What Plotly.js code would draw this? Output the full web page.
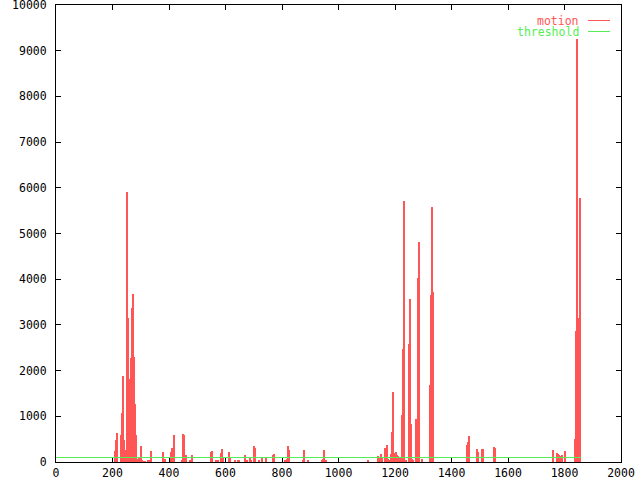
<!DOCTYPE html>
<html>
<head>
<meta charset="utf-8">
<script src="https://cdn.plot.ly/plotly-3.0.1.min.js"></script>
<style>
  html, body { margin: 0; padding: 0; background: #fff; }
  #chart { width: 640px; height: 480px; }
  #chart .scatterlayer path, #chart .shapelayer path, #chart .xlines-above, #chart .ylines-above,
  #chart .xtick, #chart .ytick, #chart path.xtick, #chart path.ytick { shape-rendering: crispEdges; }
</style>
</head>
<body>
<div id="chart"></div>
<script>
// Frame numbers at which motion was detected, and the motion score there
const frames = [
  208, 211, 215, 229, 233, 236, 240, 243, 247, 250, 254, 257, 261, 264, 268, 272, 275, 279, 282, 286,
  289, 293, 296, 300, 303, 307, 314, 325, 328, 335,
  378, 381, 385, 406, 410, 417, 445, 449, 452, 456, 459, 473, 480,
  548, 551, 565, 572, 583, 587, 590, 611, 615, 633, 643, 647, 668, 672, 675, 686, 689,
  700, 703, 718, 728, 742, 767, 771, 810, 817, 820, 824, 873, 877, 891, 941, 944, 948, 955,
  1103, 1139, 1142, 1146, 1149, 1153, 1164, 1167, 1171, 1174, 1178, 1185, 1188, 1192, 1195,
  1199, 1203, 1206, 1210, 1213, 1217, 1220, 1224, 1227, 1231, 1234, 1238, 1249, 1252, 1256,
  1259, 1263, 1273, 1277, 1280, 1284, 1295, 1323, 1326, 1330, 1334,
  1454, 1457, 1461, 1489, 1493, 1507, 1511, 1550, 1553,
  1758, 1772, 1776, 1780, 1787, 1790, 1801, 1836, 1840, 1843, 1847, 1850, 1854
];
const motion = [
  220, 466, 634, 575, 1055, 1865, 460, 180, 250, 5900, 3136, 1800, 1250, 2260, 3350, 3675, 2280, 1250, 575, 60,
  50, 100, 100, 340, 40, 20, 20, 40, 40, 232,
  210, 60, 60, 210, 290, 583, 40, 605, 583, 60, 138, 40, 138,
  210, 225, 40, 40, 182, 270, 100, 210, 80, 30, 30, 30, 138, 30, 30, 90, 40,
  335, 290, 40, 80, 90, 138, 160, 40, 60, 335, 260, 40, 247, 30, 30, 50, 247, 30,
  40, 110, 100, 80, 160, 80, 290, 150, 363, 50, 40, 160, 656, 1523, 130,
  180, 210, 150, 110, 100, 100, 100, 1020, 2457, 5696, 40, 40, 2566, 3550, 816,
  60, 40, 926, 794, 4010, 4806, 60, 1670, 3640, 5565, 3700,
  363, 422, 553, 270, 203, 270, 270, 313, 290,
  247, 197, 160, 140, 120, 140, 219, 488, 2850, 9240, 225, 3130, 5760
];
const firstFrame = 0;
const lastFrame = 1857;
const threshold = 100;

const xTicks = [0, 200, 400, 600, 800, 1000, 1200, 1400, 1600, 1800, 2000];
const yTicks = [0, 1000, 2000, 3000, 4000, 5000, 6000, 7000, 8000, 9000, 10000];

// Build a stepped series: every detected frame gets a narrow column, zero elsewhere
const colW = 3.5;
const sx = [firstFrame], sy = [0];
for (let i = 0; i < frames.length; i++) {
  sx.push(frames[i]); sy.push(motion[i]);
  const next = i + 1 < frames.length ? frames[i + 1] : Infinity;
  if (next - frames[i] > colW + 1) { sx.push(frames[i] + colW); sy.push(0); }
}
sx.push(lastFrame); sy.push(0);

const RED = '#ff5555', GREEN = '#55ee55';
const FONT = 'DejaVu Sans Mono, monospace';

const traces = [
  {
    x: sx, y: sy, type: 'scatter', mode: 'lines', name: 'motion',
    line: { color: RED, width: 1, shape: 'hv' },
    fill: 'tozeroy', fillcolor: RED, showlegend: false, hoverinfo: 'skip'
  },
  {
    x: [firstFrame, lastFrame], y: [threshold, threshold], type: 'scatter', mode: 'lines',
    name: 'threshold', line: { color: GREEN, width: 1 }, showlegend: false, hoverinfo: 'skip'
  }
];

const axisCommon = {
  showgrid: false, zeroline: false, showline: true, linecolor: '#000', linewidth: 1,
  mirror: 'allticks', ticks: 'inside', ticklen: 5, tickcolor: '#000', tickwidth: 1,
  tickfont: { family: FONT, size: 11.5, color: '#000' }, layer: 'below traces',
  ticklabeloverflow: 'allow'
};

const layout = {
  width: 640, height: 480,
  margin: { l: 56, r: 19, t: 5, b: 18, pad: 0 },
  paper_bgcolor: '#fff', plot_bgcolor: '#fff',
  showlegend: false,
  xaxis: Object.assign({}, axisCommon, {
    range: [0, 2000], tickvals: xTicks, ticktext: xTicks.map(String), ticklabelstandoff: 0
  }),
  yaxis: Object.assign({}, axisCommon, {
    range: [0, 10000], tickvals: yTicks, ticktext: yTicks.map(String), ticklabelstandoff: 6
  }),
  annotations: [
    { text: 'motion', xref: 'paper', yref: 'paper', x: 0.929, y: 0.965, xanchor: 'right', yanchor: 'middle',
      showarrow: false, font: { family: FONT, size: 11.5, color: RED } },
    { text: 'threshold', xref: 'paper', yref: 'paper', x: 0.929, y: 0.941, xanchor: 'right', yanchor: 'middle',
      showarrow: false, font: { family: FONT, size: 11.5, color: GREEN } }
  ],
  shapes: [
    { type: 'line', xref: 'paper', yref: 'paper', x0: 0.9416, x1: 0.9805, y0: 0.965, y1: 0.965,
      line: { color: RED, width: 1 } },
    { type: 'line', xref: 'paper', yref: 'paper', x0: 0.9416, x1: 0.9805, y0: 0.941, y1: 0.941,
      line: { color: GREEN, width: 1 } }
  ]
};

Plotly.newPlot('chart', traces, layout, { staticPlot: true, displayModeBar: false });
</script>
</body>
</html>
